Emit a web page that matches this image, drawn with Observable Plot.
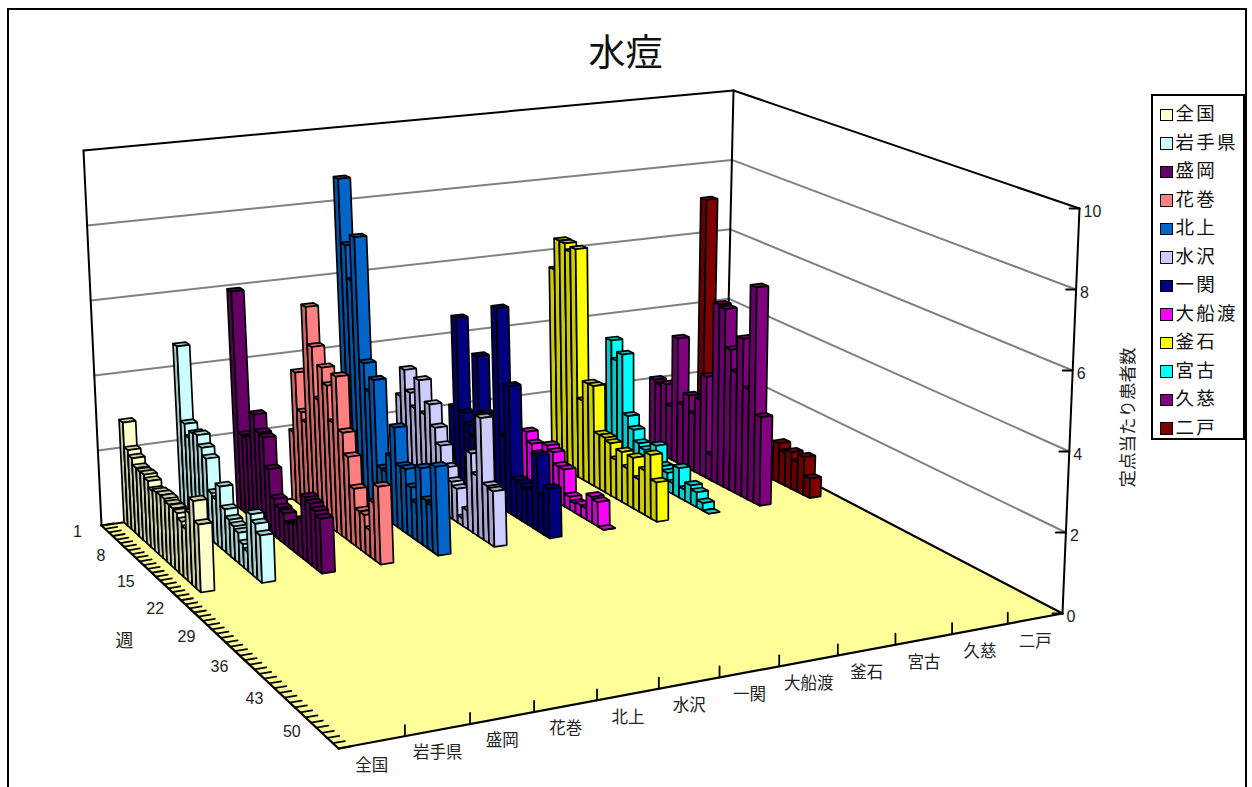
<!DOCTYPE html>
<html lang="ja">
<head>
<meta charset="utf-8">
<title>水痘</title>
<script src="https://cdn.jsdelivr.net/npm/d3@7"></script>
<script src="https://cdn.jsdelivr.net/npm/@observablehq/plot@0.6"></script>
<style>
html,body{margin:0;padding:0;background:#fff;overflow:hidden;width:1252px;height:787px}
#frame{position:absolute;left:7px;top:8px;width:1236px;height:800px;border:2px solid #000}
#chart{position:absolute;left:0;top:0}
#chart svg{display:block;background:transparent}
#legend{position:absolute;left:1151px;top:94px;width:90px;height:342px;border:2px solid #000;background:#fff;font:18.5px "Noto Sans CJK JP",sans-serif;color:#111}
#legend div{position:absolute;left:6px;height:24px;line-height:24px;white-space:nowrap;letter-spacing:2.2px}
#legend i{display:inline-block;width:10.5px;height:10.5px;border:1.5px solid #000;margin-left:1px;margin-right:3px;vertical-align:-1px}
</style>
</head>
<body>
<div id="frame"></div>
<div id="chart"></div>
<div id="legend"></div>
<script>
const seriesNames = ["全国","岩手県","盛岡","花巻","北上","水沢","一関","大船渡","釜石","宮古","久慈","二戸"];
const seriesColors = ["#FFFFCC","#CCFFFF","#660066","#FF8080","#0066CC","#CCCCFF","#000080","#FF00FF","#FFFF00","#00FFFF","#800080","#800000"];
const weekLabels = [1,8,15,22,29,36,43,50];
const valueTicks = [0,2,4,6,8,10];

// Per-site weekly values, weeks 1 to 19
const zenkoku   = [2.75,2.1,1.97,1.8,1.78,1.8,1.72,1.55,1.6,1.62,1.62,1.56,1.55,1.52,1.4,1.3,1.8,2.2,1.7];
const iwate     = [4.6,2.6,2.3,2.5,2.55,2.3,2.1,1.28,1.2,1.63,1.13,0.95,0.87,0.8,0.6,0.5,1.55,1.4,1.2];
const morioka   = [5.9,2.1,2.1,2.2,2.9,2.5,2.45,1.7,1.0,0.85,0.8,0.6,0.7,0.77,1.0,1.67,1.6,1.5,1.4];
const hanamaki  = [1.9,3.6,2.6,2.4,5.6,4.6,3.26,4.2,3.8,2.9,4.2,2.8,2.25,1.5,1.0,1.0,0.7,1.5,2.0];
const kitakami  = [8.65,6.9,6.0,7.25,3.9,3.2,3.6,1.3,1.3,1.8,2.65,1.7,1.72,1.32,1.0,2.0,1.25,1.2,2.3];
const mizusawa  = [2.5,3.3,2.75,2.4,3.25,2.4,2.75,2.2,1.8,1.3,1.0,0.9,0.2,0.5,2.1,1.6,3.2,1.5,1.45];
const ichinoseki= [2.0,4.55,2.0,1.75,1.5,3.8,2.3,2.0,2.1,5.4,2.0,3.45,1.0,1.0,0.9,1.0,2.0,1.0,1.3];
const ofunato   = [1.0,1.0,1.0,1.0,1.45,1.2,1.0,1.0,1.4,1.3,1.0,1.0,0.35,0.25,0.3,0.3,0.7,0.65,0.0];
const kamaishi  = [5.5,6.38,6.37,6.2,6.34,2.2,2.75,2.76,1.5,1.5,1.43,1.06,1.36,1.0,1.37,0.87,1.2,1.7,1.05];
const miyako    = [2.0,3.4,2.9,3.15,1.5,1.2,0.9,0.8,0.7,1.08,0.6,0.5,0.3,0.8,0.3,0.5,0.4,0.2,0.0];
const kuji      = [2.03,1.95,2.05,1.5,3.5,1.7,2.04,1.6,2.07,2.8,0.7,4.95,4.9,3.85,3.3,4.3,3.0,5.85,2.4];
const ninohe    = [7.0,1.5,1.2,1.0,1.0,1.0,1.0,0.8,0.7,0.6,0.55,0.55,0.8,1.08,0.9,1.0,0.8,1.03,0.53];
const seriesValues = [zenkoku,iwate,morioka,hanamaki,kitakami,mizusawa,ichinoseki,ofunato,kamaishi,miyako,kuji,ninohe];

const WEEKS = 52, SITES = 12;

// Perspective box: floor and ceiling quads, corners (u,v) = (0,0),(1,0),(1,1),(0,1)
const floorQuad = [[101,525],[725,437],[1062,613],[338,748]];
const ceilQuad  = [[83,150],[733,90],[1079,208],[326,290]];
function homography(q){
  const [[x0,y0],[x1,y1],[x2,y2],[x3,y3]] = q;
  const dx1=x1-x2, dx2=x3-x2, sx=x0-x1+x2-x3, dy1=y1-y2, dy2=y3-y2, sy=y0-y1+y2-y3;
  const det=dx1*dy2-dx2*dy1;
  const g=(sx*dy2-dx2*sy)/det, h=(dx1*sy-sx*dy1)/det;
  const a=x1-x0+g*x1, b=x3-x0+h*x3, d=y1-y0+g*y1, e=y3-y0+h*y3;
  return (u,v)=>{const w=g*u+h*v+1;return [(a*u+b*v+x0)/w,(d*u+e*v+y0)/w];};
}
const hFloor=homography(floorQuad), hCeil=homography(ceilQuad);
const zScale=d3.scaleLinear([0,10],[0,1]);
function place(u,v,val){
  const t=zScale(val), p=hFloor(u,v), q=hCeil(u,v);
  return [p[0]+(q[0]-p[0])*t, p[1]+(q[1]-p[1])*t];
}
const project=(u,v,val)=>place(u-0.008*v*4*u*(1-u),v,val);
const projectBar=(u,v,val)=>place(u+0.026*u*v,v,val);

let polyId=0;
const shade=c=>{const r=d3.rgb(c);return d3.rgb(r.r*.8,r.g*.8,r.b*.8).formatHex();};
function poly(pts,fill){
  const id=polyId++;
  return [...pts,pts[0]].map(p=>({x:p[0],y:p[1],id,fill}));
}
const seg=(a,b,id)=>[{x:a[0],y:a[1],id},{x:b[0],y:b[1],id}];

// walls and floor
const walls=[
  ...poly([project(0,0,0),project(0,0,10),project(1,0,10),project(1,0,0)],"#fff"),
  ...poly([project(1,0,0),project(1,0,10),project(1,1,10),project(1,1,0)],"#fff")
];
const floorPoly=poly([project(0,0,0),project(1,0,0),project(1,1,0),project(0,1,0)],"#FFFF99");
const grid=valueTicks.filter(t=>t>0&&t<10).flatMap(t=>[
  ...seg(project(0,0,t),project(1,0,t),"b"+t),
  ...seg(project(1,0,t),project(1,1,t),"r"+t)]);
const frameLines=[
  ...seg(project(0,0,0),project(0,0,10),"f1"),
  ...seg(project(0,0,10),project(1,0,10),"f2"),
  ...seg(project(1,0,10),project(1,1,10),"f3"),
  ...seg(project(1,0,10),project(1,0,0),"f4"),
  ...seg(project(1,1,10),project(1,1,0),"f5"),
];
const floorEdges=[
  ...seg(project(0,0,0),project(0,1,0),"e1"),
  ...seg(project(0,1,0),project(1,1,0),"e2"),
  ...seg(project(1,1,0),project(1,0,0),"e3"),
  ...seg(project(0,0,0),project(1,0,0),"e4"),
];
// ticks
const ticks=[];
for(let k=0;k<=WEEKS;k++){const p=project(0,k/WEEKS,0);ticks.push(...seg(p,[p[0]+12,p[1]-2],"w"+k));}
for(let i=1;i<SITES;i++){const p=project(i/SITES,1,0);ticks.push(...seg(p,[p[0],p[1]-11],"s"+i));}
for(const t of valueTicks){const p=project(1,1,t);ticks.push(...seg(p,[p[0]-10,p[1]],"v"+t));}

// bars: far rows first, then back to front inside each row
const barU=0.0185, barV=1.0/WEEKS;
const faces=[];
for(let i=SITES-1;i>=0;i--){
  const col=seriesColors[i], dark=shade(col), vals=seriesValues[i], uc=(i+.5)/SITES;
  vals.forEach((val,k)=>{
    const vc=(k+.5)/WEEKS;
    const u0=uc-barU/2,u1=uc+barU/2,v0=vc-barV/2,v1=vc+barV/2;
    faces.push(...poly([projectBar(u0,v0,0),projectBar(u0,v1,0),projectBar(u0,v1,val),projectBar(u0,v0,val)],dark));
    faces.push(...poly([projectBar(u0,v0,val),projectBar(u1,v0,val),projectBar(u1,v1,val),projectBar(u0,v1,val)],dark));
    faces.push(...poly([projectBar(u0,v1,0),projectBar(u1,v1,0),projectBar(u1,v1,val),projectBar(u0,v1,val)],col));
  });
}

// labels
const fam='"Liberation Sans","Noto Sans CJK JP",sans-serif', cjk='"Noto Sans CJK JP",sans-serif';
const weekText=weekLabels.map(w=>{
  const p=project(0,(w-1)/WEEKS,0);
  return {x:p[0]-24-6*Math.min(1,(w-1)/14),y:p[1]+6-7*(w/50)**2,t:String(w)};
});
const siteText=seriesNames.map((s,i)=>{const p=project((i+.5)/SITES,1,0);return {x:p[0],y:p[1]+23,t:s};});
const valueText=valueTicks.map(t=>{const p=project(1,1,t);return {x:p[0]+4,y:p[1]+3,t:String(t)};});

const plot=Plot.plot({
  width:1252,height:787,margin:0,
  x:{domain:[0,1252],range:[0,1252],axis:null},
  y:{domain:[0,787],range:[0,787],axis:null},
  color:{type:"identity"},
  style:{background:"transparent",overflow:"visible"},
  marks:[
    Plot.line(walls,{x:"x",y:"y",z:"id",fill:"fill",stroke:"none"}),
    Plot.line(grid,{x:"x",y:"y",z:"id",stroke:"#808080",strokeWidth:2}),
    Plot.line(frameLines,{x:"x",y:"y",z:"id",stroke:"#000",strokeWidth:2}),
    Plot.line(floorPoly,{x:"x",y:"y",z:"id",fill:"fill",stroke:"none"}),
    Plot.line(floorEdges,{x:"x",y:"y",z:"id",stroke:"#000",strokeWidth:2.2}),
    Plot.line(ticks,{x:"x",y:"y",z:"id",stroke:"#000",strokeWidth:1.8}),
    Plot.line(faces,{x:"x",y:"y",z:"id",fill:"fill",stroke:"#000",strokeWidth:1.7,strokeLinejoin:"miter"}),
    Plot.text(weekText,{x:"x",y:"y",text:"t",fontSize:16,fontFamily:fam,fill:"#222"}),
    Plot.text(siteText,{x:"x",y:"y",text:"t",fontSize:16.5,fontFamily:cjk,fill:"#222"}),
    Plot.text(valueText,{x:"x",y:"y",text:"t",textAnchor:"start",fontSize:16,fontFamily:fam,fill:"#222"}),
    Plot.text([{x:625,y:54,t:"水痘"}],{x:"x",y:"y",text:"t",fontSize:37,fontFamily:cjk,fill:"#111"}),
    Plot.text([{x:124,y:641,t:"週"}],{x:"x",y:"y",text:"t",fontSize:18,fontFamily:cjk,fill:"#222"}),
    Plot.text([{x:1128,y:417,t:"定点当たり患者数"}],{x:"x",y:"y",text:"t",rotate:-90,fontSize:17.5,fontFamily:cjk,fill:"#222"})
  ]
});
document.getElementById("chart").appendChild(plot);

const lg=document.getElementById("legend");
seriesNames.forEach((s,i)=>{
  const row=document.createElement("div");
  row.style.top=(4+28.5*i)+"px";
  const sw=document.createElement("i");sw.style.background=seriesColors[i];
  row.appendChild(sw);row.appendChild(document.createTextNode(s));
  lg.appendChild(row);
});
</script>
</body>
</html>
